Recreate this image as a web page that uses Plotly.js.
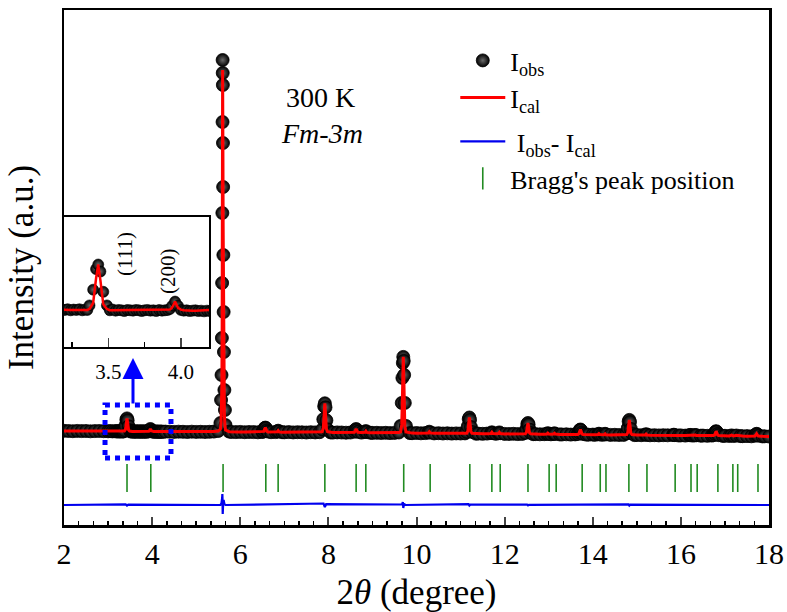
<!DOCTYPE html>
<html>
<head>
<meta charset="utf-8">
<script src="https://cdn.plot.ly/plotly-3.0.1.min.js"></script>
<style>
html,body{margin:0;padding:0;background:#fff;}
#chart{width:787px;height:612px;}
</style>
</head>
<body>
<div id="chart"></div>
<script>
// ---- Observed / calculated pattern (2θ in degrees, intensity in arbitrary units) ----
const twoTheta = [
  2.0,2.1,2.2,2.3,2.4,2.5,2.6,2.7,2.8,2.9,
  3.0,3.05,3.1,3.15,3.18,3.20,3.22,3.24,3.26,3.28,3.30,3.32,3.34,3.355,
  3.37,3.395,3.415,3.43,3.445,3.465,3.49,
  3.51,3.53,3.55,3.57,3.59,3.61,3.63,3.65,3.67,3.69,3.71,3.73,3.75,3.77,3.79,3.81,3.83,3.85,3.87,3.89,3.91,3.925,
  3.94,3.96,3.98,
  4.00,4.02,4.04,4.06,4.08,4.10,4.12,4.14,4.16,4.18,4.20,4.22,4.25,4.3,
  4.4,4.5,4.6,4.7,4.8,4.9,5.0,5.1,5.2,5.3,5.4,5.5,
  5.550,5.565,5.575,5.583,5.589,5.594,5.598,5.600,5.602,5.605,5.608,5.612,5.617,5.623,5.630,5.640,5.652,5.665,
  5.75,5.8,5.9,6.0,6.1,6.2,6.3,6.4,6.5,
  6.51,6.535,6.555,6.57,6.585,6.605,6.63,
  6.7,6.8,
  6.84,6.86,6.88,
  6.95,7.0,7.1,7.2,7.3,7.4,7.5,7.6,7.7,7.8,
  7.86,7.885,7.905,7.92,7.935,7.955,7.98,
  8.05,8.1,8.2,8.3,8.4,8.5,
  8.59,8.61,8.63,8.65,8.67,
  8.75,
  8.83,8.85,8.87,
  8.95,9.0,9.1,9.2,9.3,9.4,9.5,9.6,
  9.64,9.665,9.68,9.69,9.70,9.71,9.72,9.735,9.76,
  9.85,9.9,10.0,10.1,10.2,
  10.27,10.29,10.31,
  10.4,10.5,10.6,10.7,10.8,10.9,11.0,11.1,
  11.14,11.165,11.185,11.20,11.215,11.235,11.26,
  11.35,11.4,11.5,11.6,
  11.69,11.71,11.73,
  11.8,
  11.86,11.88,11.90,
  12.0,12.1,12.2,12.3,12.4,
  12.47,12.495,12.515,12.53,12.545,12.565,12.59,
  12.65,12.7,12.8,12.9,
  12.96,12.98,13.00,
  13.05,
  13.11,13.13,13.15,
  13.25,13.3,13.4,13.5,13.6,
  13.66,13.685,13.705,13.72,13.735,13.755,13.78,
  13.85,13.9,14.0,14.05,
  14.12,14.14,14.16,
  14.21,
  14.26,14.28,14.30,
  14.4,14.5,14.6,14.7,
  14.77,14.795,14.815,14.83,14.845,14.865,14.89,
  14.95,15.0,15.1,
  15.19,15.21,15.23,
  15.3,15.4,15.5,15.6,15.7,
  15.82,15.84,15.86,
  15.95,16.0,16.1,
  16.19,16.21,16.23,
  16.27,
  16.31,16.33,16.35,
  16.45,16.5,16.6,16.7,
  16.74,16.765,16.785,16.80,16.815,16.835,16.86,
  16.95,17.0,17.1,
  17.15,17.2,17.26,
  17.35,17.4,17.5,17.6,
  17.68,17.70,17.72,17.74,17.76,
  17.85,17.9,18.0
];
const iObs = [
  94.2,94.0,93.8,94.1,93.9,94.0,93.7,93.9,94.0,93.8,
  93.7,93.9,93.6,93.8,93.7,93.6,93.8,93.5,93.7,93.6,93.8,93.5,93.7,93.6,
  94.9,99.4,105.3,106.6,104.6,98.8,94.9,
  93.5,93.7,93.4,93.6,93.5,93.3,93.6,93.5,93.4,93.6,93.5,93.3,93.5,93.6,93.4,93.5,93.3,93.6,93.4,93.5,93.6,93.9,
  94.8,96.0,94.8,
  93.6,93.4,93.5,93.3,93.4,93.5,93.3,93.4,93.2,93.4,93.3,93.4,93.2,93.4,
  93.3,93.1,93.3,93.2,93.0,93.3,93.1,93.2,93.0,93.2,93.4,94.0,
  102,125,150,187,242,312,403,465,452,440,382,338,270,213,173,135,115,100,
  93.4,93.0,92.9,93.1,92.8,93.0,92.9,92.7,93.0,
  93.4,94.9,96.9,97.4,96.7,94.7,93.4,
  92.8,92.9,
  93.6,94.3,93.5,
  92.8,92.7,92.9,92.6,92.8,92.7,92.5,92.8,92.6,92.8,
  95.6,105.7,118.7,121.7,117.7,104.7,95.6,
  92.6,92.4,92.6,92.5,92.3,92.5,
  93.3,95.1,96.0,94.9,93.2,
  92.4,
  93.0,93.9,93.0,
  92.3,92.1,92.2,92.0,92.2,91.9,92.1,92.5,
  99.1,122.1,147.1,162.1,168.1,164.1,150.1,122.1,99.1,
  91.9,91.8,92.0,91.7,91.9,
  92.5,93.3,92.4,
  91.6,91.8,91.5,91.7,91.4,91.6,91.5,91.6,
  93.1,98.7,105.9,107.5,105.1,97.9,93.1,
  91.3,91.4,91.2,91.4,
  91.9,92.7,91.9,
  91.2,
  91.8,92.6,91.8,
  91.1,91.0,91.2,90.9,91.1,
  92.1,96.0,100.9,102.0,100.4,95.4,92.1,
  90.8,90.9,90.7,90.8,
  91.2,91.8,91.2,
  90.7,
  91.1,91.7,91.1,
  90.6,90.5,90.7,90.4,90.6,
  91.0,92.7,95.0,95.5,94.7,92.5,91.0,
  90.4,90.3,90.4,90.2,
  90.7,91.3,90.7,
  90.2,
  90.6,91.2,90.6,
  90.1,90.2,90.0,90.1,
  91.6,96.9,103.6,105.1,102.9,96.1,91.6,
  89.9,90.0,89.8,
  90.2,90.8,90.2,
  89.7,89.8,89.6,89.8,89.7,
  89.9,90.3,89.9,
  89.5,89.6,89.4,
  89.8,90.1,89.8,
  89.4,
  89.7,90.0,89.7,
  89.3,89.4,89.2,89.4,
  89.8,91.3,93.3,93.8,93.1,91.1,89.8,
  89.1,89.2,89.0,
  89.6,89.0,89.5,
  88.9,88.8,88.9,88.7,
  89.3,90.6,91.2,90.5,89.3,
  88.6,88.7,88.5
];
const iCal = [
  94.0,94.0,93.9,93.9,93.9,93.9,93.8,93.8,93.8,93.8,
  93.7,93.7,93.7,93.7,93.7,93.6,93.6,93.6,93.6,93.6,93.6,93.6,93.6,93.6,
  93.9,95.6,102.6,106.6,102.1,95.2,93.9,
  93.5,93.5,93.5,93.5,93.5,93.5,93.5,93.5,93.5,93.5,93.5,93.5,93.5,93.5,93.5,93.5,93.5,93.5,93.5,93.5,93.5,93.7,
  94.3,96.0,94.2,
  93.7,93.5,93.4,93.4,93.4,93.4,93.4,93.4,93.3,93.3,93.3,93.3,93.3,93.3,
  93.3,93.2,93.2,93.2,93.1,93.1,93.1,93.1,93.1,93.2,93.4,93.9,
  96,103,115,140,200,300,420,455,445,410,360,300,230,170,130,110,100,95,
  93.3,93.1,93.0,93.0,92.9,92.9,92.9,92.9,92.9,
  93.0,93.6,96.1,97.4,95.9,93.5,93.0,
  92.9,92.9,
  93.2,94.3,93.1,
  92.8,92.8,92.7,92.7,92.7,92.7,92.7,92.7,92.7,92.8,
  93.3,97.1,112.7,121.7,111.7,96.2,93.3,
  92.6,92.5,92.5,92.5,92.5,92.5,
  92.7,94.3,96.0,94.1,92.7,
  92.5,
  92.7,93.9,92.6,
  92.2,92.2,92.1,92.1,92.1,92.1,92.1,92.4,
  93.1,100.1,127.1,154.1,168.1,152.1,124.1,99.1,93.1,
  91.9,91.9,91.8,91.8,91.8,
  92.1,93.3,92.1,
  91.7,91.7,91.6,91.6,91.6,91.6,91.5,91.5,
  91.8,93.9,102.5,107.5,101.9,93.4,91.8,
  91.4,91.4,91.3,91.3,
  91.5,92.7,91.5,
  91.3,
  91.4,92.6,91.4,
  91.1,91.1,91.0,91.0,91.0,
  91.2,92.7,98.7,102.0,98.2,92.3,91.2,
  90.9,90.9,90.8,90.8,
  90.9,91.8,90.9,
  90.8,
  90.9,91.7,90.9,
  90.6,90.6,90.5,90.5,90.5,
  90.6,91.3,94.0,95.5,93.7,91.1,90.6,
  90.4,90.4,90.3,90.3,
  90.4,91.3,90.4,
  90.3,
  90.3,91.2,90.3,
  90.1,90.1,90.1,90.1,
  90.4,92.4,100.6,105.1,99.9,91.9,90.4,
  90.0,90.0,89.9,
  89.9,90.8,89.9,
  89.8,89.8,89.7,89.7,89.7,
  89.7,90.3,89.7,
  89.6,89.6,89.5,
  89.6,90.1,89.5,
  89.5,
  89.5,90.0,89.5,
  89.4,89.4,89.3,89.3,
  89.4,90.0,92.5,93.8,92.3,89.9,89.4,
  89.2,89.2,89.1,
  89.9,89.1,89.8,
  88.9,88.9,88.8,88.8,
  88.9,89.9,91.2,89.8,88.9,
  88.7,88.7,88.6
];
// ---- Difference curve (offset below the pattern) ----
const diffTheta = [2.0, 3.40,3.43,3.46, 5.55,5.575,5.589,5.594,5.598,5.600,5.602,5.605,5.612,5.623,5.64,5.665,
  7.89,7.92,7.95, 9.67,9.69,9.70,9.72,9.74, 11.18,11.20,11.22, 12.51,12.53,12.55, 14.81,14.83,14.85, 18.0];
const iDiff = [20, 20.6,19.5,20.4, 20,22,27,31,26,16,11,13,21,25,21,20,
  21.5,18,20.8, 20.5,23,17,21.5,20, 20.8,19.5,20.3, 20.5,19.6,20.2, 20.7,19.5,20.3, 20];
// ---- Bragg reflection positions ----
const braggPos = [3.43,3.97,5.61,6.58,6.86,7.92,8.63,8.85,9.71,10.31,11.21,11.71,11.90,12.53,13.01,13.17,
  13.76,14.17,14.30,14.82,15.23,15.87,16.23,16.37,16.84,17.18,17.29,17.75];
const braggLevel = 47;

const FONT = 'Liberation Serif, Times New Roman, serif';
const sphere = {size: 13, color: '#000000', gradient: {type: 'radial', color: '#6a6a6a'}, line: {color: '#000', width: 0.8}};

const traces = [
  {x: twoTheta, y: iObs, type: 'scatter', mode: 'markers', name: 'I<sub>obs</sub>', legend: 'legend',
   marker: sphere},
  {x: twoTheta, y: iCal, type: 'scatter', mode: 'lines', name: 'I<sub>cal</sub>', legend: 'legend2',
   line: {color: '#ff0000', width: 3}},
  {x: diffTheta, y: iDiff, type: 'scatter', mode: 'lines', name: ' I<sub>obs</sub>- I<sub>cal</sub>', legend: 'legend3',
   line: {color: '#0000ee', width: 2.2}},
  {x: braggPos, y: braggPos.map(() => braggLevel), type: 'scatter', mode: 'markers', name: "Bragg's peak position", legend: 'legend4',
   marker: {symbol: 'line-ns', size: 20, line: {color: '#228b22', width: 1.6}, color: '#228b22'}},
  // inset
  {x: twoTheta, y: iObs, type: 'scatter', mode: 'markers', xaxis: 'x2', yaxis: 'y2', showlegend: false,
   marker: {size: 11, color: '#000', gradient: {type: 'radial', color: '#6a6a6a'}, line: {color: '#000', width: 0.6}}},
  {x: twoTheta, y: iCal, type: 'scatter', mode: 'lines', xaxis: 'x2', yaxis: 'y2', showlegend: false,
   line: {color: '#ff0000', width: 2.5}}
];

function leg(topPx) {
  return {x: 0.555, y: (525 - topPx) / 515, xanchor: 'left', yanchor: 'top', bgcolor: 'rgba(0,0,0,0)',
          font: {family: FONT, size: 26}, itemwidth: 45};
}

const layout = {
  width: 787, height: 612,
  margin: {l: 64, r: 18, t: 10, b: 87},
  paper_bgcolor: '#fff', plot_bgcolor: '#fff',
  font: {family: FONT, color: '#000'},
  showlegend: true,
  legend: leg(37), legend2: leg(74), legend3: leg(118), legend4: leg(155),
  xaxis: {range: [2, 18], showline: true, linewidth: 2.5, linecolor: '#000', mirror: true,
          ticks: 'inside', ticklen: 8, tickwidth: 2, tick0: 2, dtick: 2,
          minor: {dtick: 1/3, ticks: 'inside', ticklen: 4, tickwidth: 1.5, tickcolor: '#000'},
          tickfont: {family: FONT, size: 30}, showgrid: false, zeroline: false,
          title: {text: '2<i>θ</i> (degree)', font: {family: FONT, size: 35}, standoff: 16}},
  yaxis: {range: [0, 515], showline: true, linewidth: 2.5, linecolor: '#000', mirror: true,
          ticks: '', showticklabels: false, showgrid: false, zeroline: false,
          title: {text: 'Intensity (a.u.)', font: {family: FONT, size: 35}, standoff: 18}},
  xaxis2: {anchor: 'y2', domain: [0, 0.2057], range: [3.194, 4.194], showline: true, linewidth: 2, linecolor: '#000', mirror: true,
           ticks: 'inside', ticklen: 9, tickwidth: 1.5, tick0: 3.5, dtick: 0.5, tickformat: '.1f', ticklabelstandoff: 5,
           minor: {dtick: 0.25, ticks: 'inside', ticklen: 5, tickwidth: 1.5, tickcolor: '#000'},
           tickfont: {family: FONT, size: 21}, showgrid: false, zeroline: false},
  yaxis2: {anchor: 'x2', domain: [0.3456, 0.5981], range: [83, 120.2], showline: true, linewidth: 2, linecolor: '#000', mirror: true,
           ticks: '', showticklabels: false, showgrid: false, zeroline: false},
  shapes: [
    {type: 'rect', xref: 'x', yref: 'y', x0: 2.931, x1: 4.428, y0: 67, y1: 120,
     line: {color: '#0000ff', width: 5, dash: '5px,5px'}}
  ],
  annotations: [
    {xref: 'x', yref: 'y', x: 3.566, y: 167, ax: 0, ay: 47, showarrow: true, text: '',
     arrowhead: 2, arrowsize: 1.4, arrowwidth: 3, arrowcolor: '#0000ff'},
    {xref: 'paper', yref: 'paper', x: (320-64)/705, y: (525-98)/515, xanchor: 'center', yanchor: 'middle', text: '300 K', showarrow: false,
     font: {family: FONT, size: 28}},
    {xref: 'paper', yref: 'paper', x: (322-64)/705, y: (525-133)/515, xanchor: 'center', yanchor: 'middle', text: '<i>Fm-3m</i>', showarrow: false,
     font: {family: FONT, size: 28}},
    {xref: 'paper', yref: 'paper', x: (125-64)/705, y: (525-254)/515, xanchor: 'center', yanchor: 'middle', text: '(111)', showarrow: false, textangle: -90,
     font: {family: FONT, size: 21}},
    {xref: 'paper', yref: 'paper', x: (168-64)/705, y: (525-271)/515, xanchor: 'center', yanchor: 'middle', text: '(200)', showarrow: false, textangle: -90,
     font: {family: FONT, size: 21}}
  ]
};

Plotly.newPlot('chart', traces, layout, {staticPlot: true, displayModeBar: false});
</script>
</body>
</html>
